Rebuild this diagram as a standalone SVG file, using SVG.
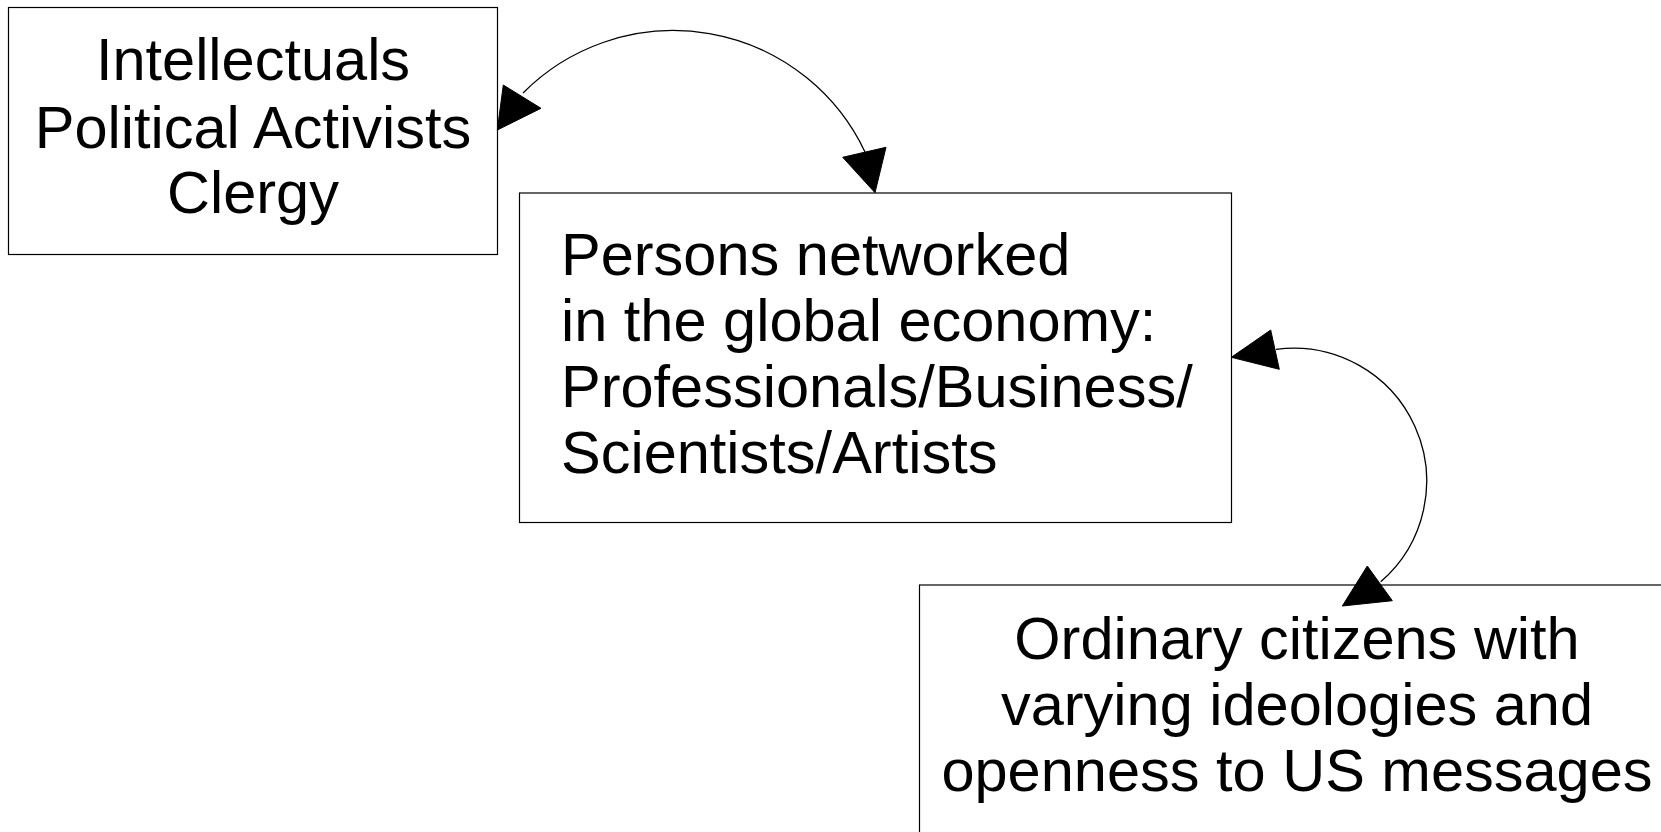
<svg xmlns="http://www.w3.org/2000/svg" width="1661" height="832" viewBox="0 0 1661 832">
<style>
.box{fill:#fff;stroke:#000;stroke-width:1.2}
.lbl{font-family:"Liberation Sans",Arial,sans-serif;font-size:59.5px;fill:#000}
.c{text-anchor:middle}
.arc{fill:none;stroke:#000;stroke-width:1.3}
.arrow{fill:#000;stroke:#000;stroke-width:1}
</style>
<rect width="1661" height="832" fill="#fff"/>
<g id="node-intellectuals">
<rect class="box" x="8.5" y="7.5" width="489" height="247"/>
<text class="lbl c" x="253" y="80">Intellectuals</text>
<text class="lbl c" x="253" y="148">Political Activists</text>
<text class="lbl c" x="253" y="213">Clergy</text>
</g>
<g id="node-networked">
<rect class="box" x="519.5" y="193" width="712" height="329.5"/>
<text class="lbl" x="561" y="275">Persons networked</text>
<text class="lbl" x="561" y="341">in the global economy:</text>
<text class="lbl" x="561" y="407">Professionals/Business/</text>
<text class="lbl" x="561" y="473">Scientists/Artists</text>
</g>
<g id="node-citizens">
<rect class="box" x="919.5" y="585" width="800" height="300"/>
<text class="lbl c" x="1297" y="659">Ordinary citizens with</text>
<text class="lbl c" x="1297" y="725">varying ideologies and</text>
<text class="lbl c" x="1297" y="791">openness to US messages</text>
</g>
<g id="connectors">
<path class="arc" d="M523,93 A212,212 0 0 1 865,152"/>
<polygon class="arrow" points="497.3,130 503.3,85 541,108.3"/>
<polygon class="arrow" points="875,192.7 842.7,157.3 886,147.3"/>
<path class="arc" d="M1276,349.3 A133,133 0 0 1 1380.7,581.7"/>
<polygon class="arrow" points="1231.3,357.3 1270.7,330 1279.3,369.3"/>
<polygon class="arrow" points="1342.3,606 1367.3,566 1392.3,600.7"/>
</g>
</svg>
